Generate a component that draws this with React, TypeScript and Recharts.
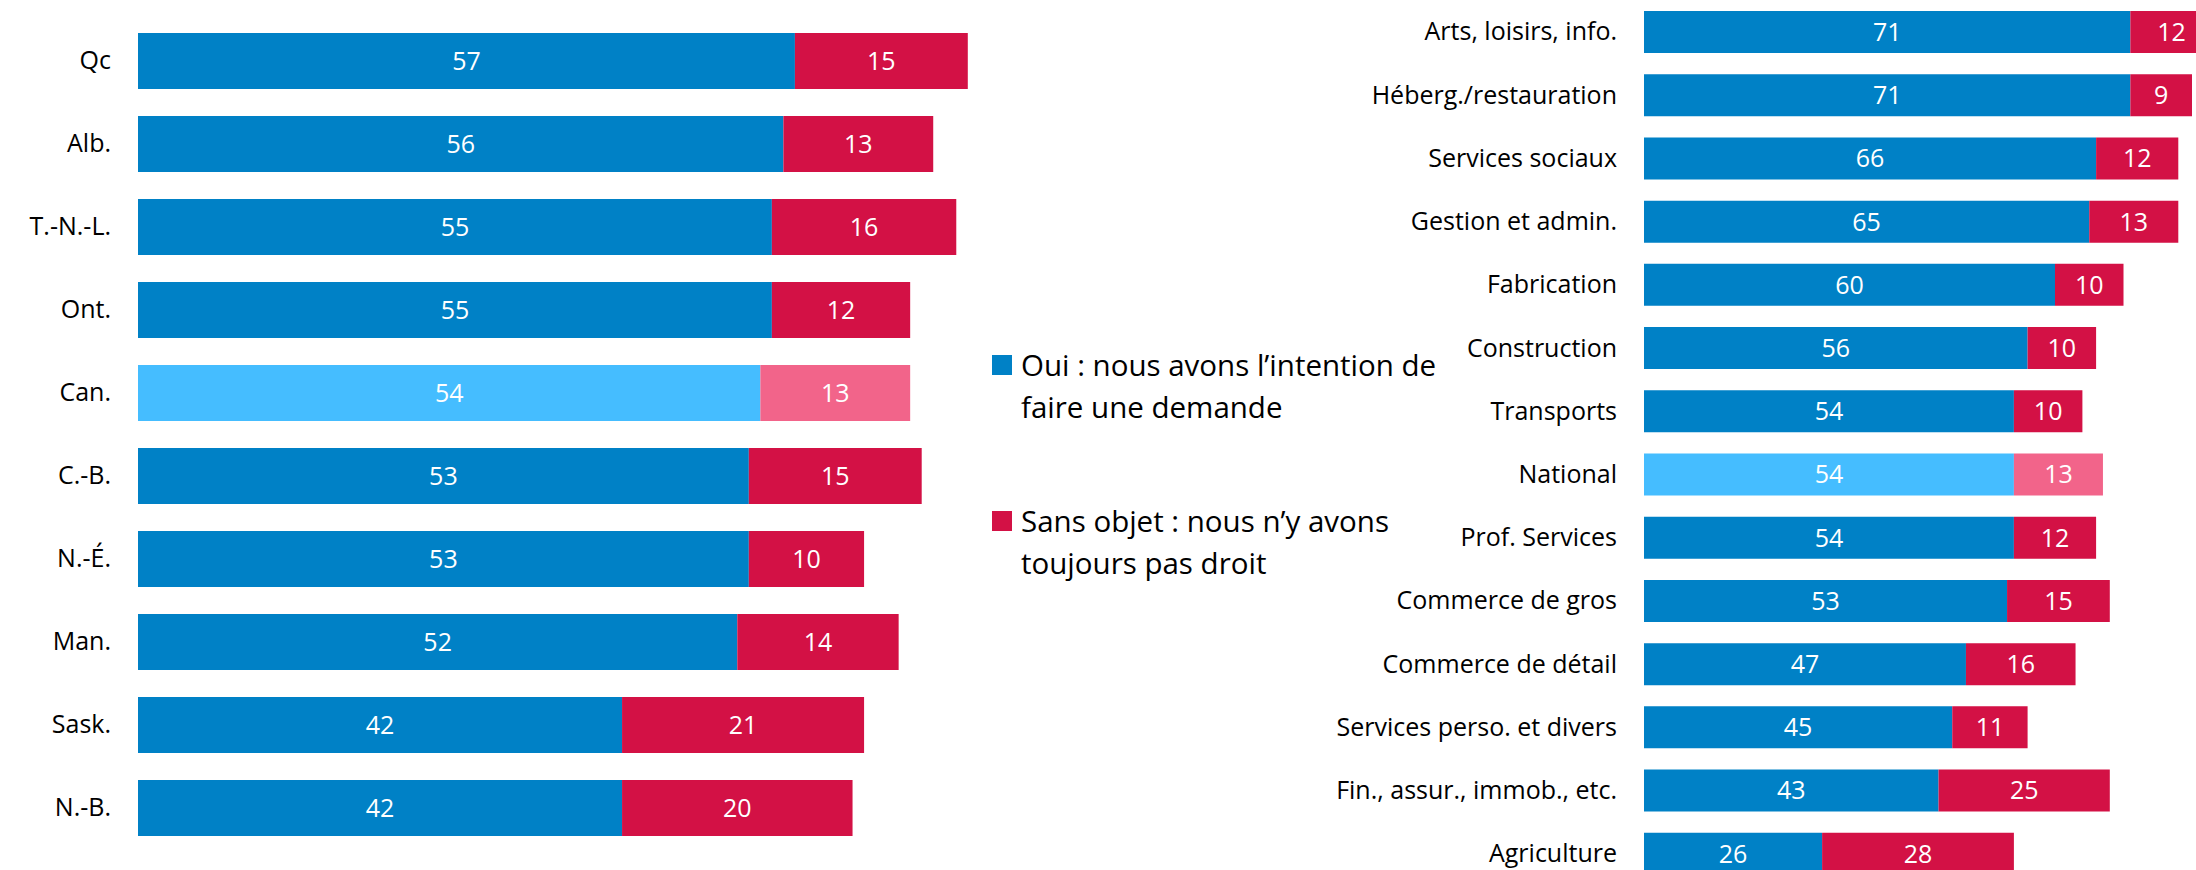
import { BarChart, Bar, XAxis, YAxis, Cell, LabelList } from "recharts";

const provinces = ["Qc", "Alb.", "T.-N.-L.", "Ont.", "Can.", "C.-B.", "N.-É.", "Man.", "Sask.", "N.-B."];
const provinceOui = [57, 56, 55, 55, 54, 53, 53, 52, 42, 42];
const provinceSans = [15, 13, 16, 12, 13, 15, 10, 14, 21, 20];

const sectors = [
  "Arts, loisirs, info.",
  "Héberg./restauration",
  "Services sociaux",
  "Gestion et admin.",
  "Fabrication",
  "Construction",
  "Transports",
  "National",
  "Prof. Services",
  "Commerce de gros",
  "Commerce de détail",
  "Services perso. et divers",
  "Fin., assur., immob., etc.",
  "Agriculture",
];
const sectorOui = [71, 71, 66, 65, 60, 56, 54, 54, 54, 53, 47, 45, 43, 26];
const sectorSans = [12, 9, 12, 13, 10, 10, 10, 13, 12, 15, 16, 11, 25, 28];

// the "average" rows drawn in lighter shades
const highlighted = ["Can.", "National"];

const legendLines = [
  ["Oui : nous avons l’intention de", "faire une demande"],
  ["Sans objet : nous n’y avons", "toujours pas droit"],
];

const BLUE = "#0081C6";
const RED = "#D31145";
const LIGHT_BLUE = "#45BDFF";
const PINK = "#F2648A";
const FONT = "'Open Sans', sans-serif";

const toRows = (names: string[], oui: number[], sans: number[]) =>
  names.map((name, i) => ({ name, oui: oui[i], sans: sans[i] }));

type Row = { name: string; oui: number; sans: number };

function StackedBars({ data, width, height, axisWidth, max, barSize, margin }: {
  data: Row[]; width: number; height: number; axisWidth: number; max: number; barSize: number;
  margin: { top: number; right: number; bottom: number; left: number };
}) {
  return (
    <BarChart width={width} height={height} data={data} layout="vertical" margin={margin} barSize={barSize}>
      <XAxis type="number" domain={[0, max]} hide />
      <YAxis
        type="category"
        dataKey="name"
        width={axisWidth}
        axisLine={false}
        tickLine={false}
        tickSize={0}
        tickMargin={27}
        interval={0}
        tick={{ fontSize: 25, fill: "#000", fontFamily: FONT }}
      />
      <Bar dataKey="oui" stackId="a" isAnimationActive={false}>
        {data.map((d) => <Cell key={d.name} fill={highlighted.includes(d.name) ? LIGHT_BLUE : BLUE} />)}
        <LabelList dataKey="oui" position="center" fill="#fff" fontSize={25} fontFamily={FONT} />
      </Bar>
      <Bar dataKey="sans" stackId="a" isAnimationActive={false}>
        {data.map((d) => <Cell key={d.name} fill={highlighted.includes(d.name) ? PINK : RED} />)}
        <LabelList dataKey="sans" position="center" fill="#fff" fontSize={25} fontFamily={FONT} />
      </Bar>
    </BarChart>
  );
}

export default function App() {
  const provinceData = toRows(provinces, provinceOui, provinceSans);
  const sectorData = toRows(sectors, sectorOui, sectorSans);
  const legendColors = [BLUE, RED];
  const legendTops = [344, 500];

  return (
    <div style={{ position: "absolute", left: 0, top: 0, width: 2196, height: 870, overflow: "hidden", background: "#fff", fontFamily: FONT }}>
      <div style={{ position: "absolute", left: 0, top: 0 }}>
        <StackedBars data={provinceData} width={1060} height={870} axisWidth={138} max={80} barSize={56}
          margin={{ top: 19, right: 0, bottom: 21, left: 0 }} />
      </div>

      {legendLines.map((lines, i) => (
        <div key={i} style={{ position: "absolute", left: 992, top: legendTops[i], display: "flex", alignItems: "flex-start" }}>
          <div style={{ width: 20, height: 20, marginTop: 11, background: legendColors[i], flex: "none" }} />
          <div style={{ marginLeft: 9, fontSize: 29.5, lineHeight: "42px", color: "#000", whiteSpace: "nowrap" }}>
            {lines.map((l) => <div key={l}>{l}</div>)}
          </div>
        </div>
      ))}

      <div style={{ position: "absolute", left: 1300, top: 0 }}>
        <StackedBars data={sectorData} width={1029} height={885} axisWidth={344} max={100} barSize={42}
          margin={{ top: 0, right: 0, bottom: 0, left: 0 }} />
      </div>
    </div>
  );
}
